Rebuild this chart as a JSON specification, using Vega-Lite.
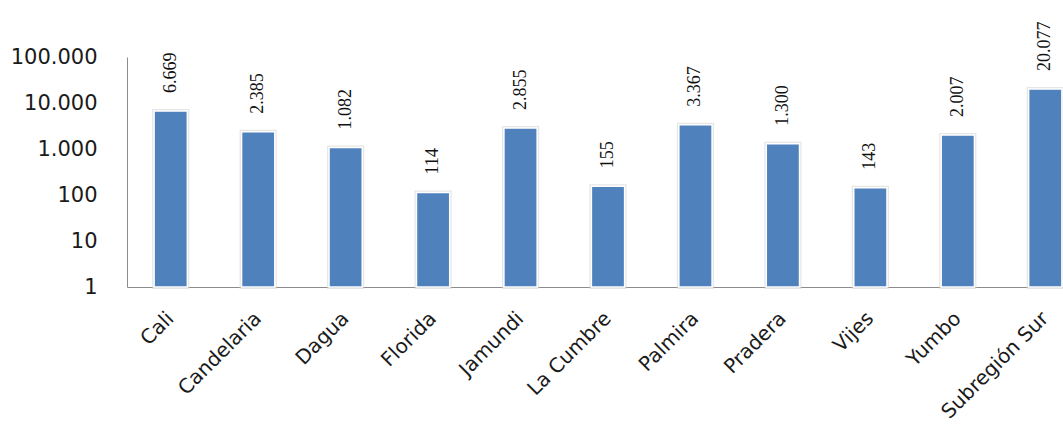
{
  "$schema": "https://vega.github.io/schema/vega-lite/v6.json",
  "width": 936,
  "height": 230,
  "autosize": {"type": "none"},
  "padding": {"left": 127, "top": 57, "right": 0, "bottom": 143},
  "config": {
    "locale": {"number": {"decimal": ",", "thousands": ".", "grouping": [3], "currency": ["", ""]}},
    "view": {"stroke": null},
    "axis": {"labelFont": "DejaVu Sans", "labelColor": "#1a1a1a", "domainColor": "#8c8c8c", "grid": false, "ticks": false}
  },
  "data": {
    "values": [
      {"municipio": "Cali", "valor": 6669},
      {"municipio": "Candelaria", "valor": 2385},
      {"municipio": "Dagua", "valor": 1082},
      {"municipio": "Florida", "valor": 114},
      {"municipio": "Jamundi", "valor": 2855},
      {"municipio": "La Cumbre", "valor": 155},
      {"municipio": "Palmira", "valor": 3367},
      {"municipio": "Pradera", "valor": 1300},
      {"municipio": "Vijes", "valor": 143},
      {"municipio": "Yumbo", "valor": 2007},
      {"municipio": "Subregión Sur", "valor": 20077}
    ]
  },
  "encoding": {
    "x": {
      "field": "municipio", "type": "nominal", "sort": null,
      "scale": {"range": [0, 962], "paddingInner": 0.62, "paddingOuter": 0.31},
      "axis": {"title": null, "labelAngle": -45, "labelFontSize": 20, "labelPadding": 28, "labelAlign": "right", "labelBaseline": "middle"}
    },
    "y": {
      "field": "valor", "type": "quantitative",
      "scale": {"type": "log", "domain": [1, 100000], "nice": false},
      "axis": {"title": null, "values": [1, 10, 100, 1000, 10000, 100000], "format": ",d", "labelFontSize": 21, "labelPadding": 30}
    }
  },
  "layer": [
    {"mark": {"type": "bar", "color": "#4f81bd", "stroke": "#d6d6d6", "strokeWidth": 4, "strokeOpacity": 0.6}, "encoding": {"y2": {"datum": 1}}},
    {"mark": {"type": "bar", "color": "#4f81bd", "stroke": "#ffffff", "strokeWidth": 1.5}, "encoding": {"y2": {"datum": 1}}},
    {
      "mark": {"type": "text", "angle": 270, "align": "left", "baseline": "middle", "dx": 18, "font": "Liberation Serif", "fontSize": 18, "color": "#111111"},
      "encoding": {"text": {"field": "valor", "type": "quantitative", "format": ",d"}}
    }
  ]
}
